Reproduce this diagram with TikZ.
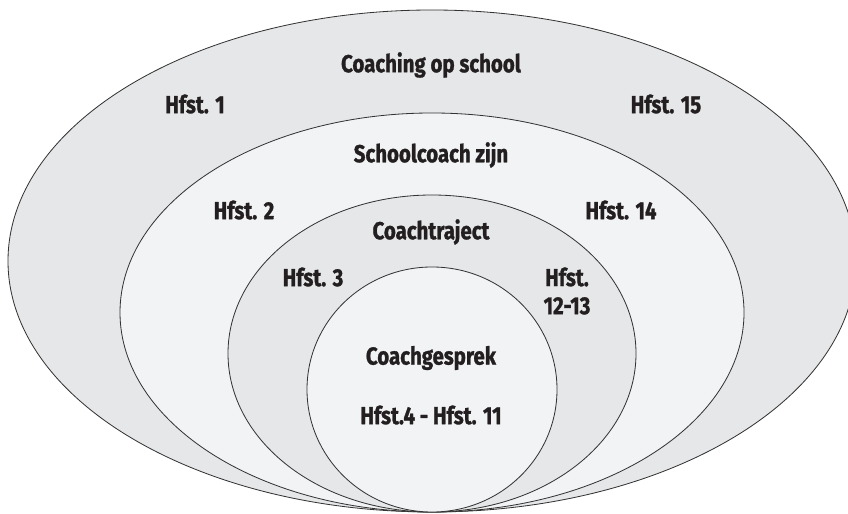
\documentclass[tikz,border=0pt]{standalone}
\usepackage{fontspec}
\setmainfont{Fira Sans}[FakeStretch=0.83, BoldFeatures={FakeBold=1.2}]
\usepackage{tikz}
\usetikzlibrary{positioning}
\definecolor{ringdark}{HTML}{E6E7E9}
\definecolor{ringlight}{HTML}{F2F3F5}
\definecolor{inktext}{HTML}{231F20}
\tikzset{
	ring/.style={draw=black!80, line width=.7pt},
	darkring/.style={ring, fill=ringdark},
	lightring/.style={ring, fill=ringlight},
	chapter/.style={font=\bfseries\fontsize{21}{24}\selectfont, text=inktext, inner sep=0pt, align=center},
}
\begin{document}
\begin{tikzpicture}[x=0.03cm, y=0.03cm]
		\useasboundingbox (0,0) rectangle (848,514);
		\clip (0,0) rectangle (848,514);
		% rings, outside in
		\draw[darkring] (432,253) ellipse [x radius=424, y radius=251];
		\draw[lightring] (432,201.5) ellipse [x radius=312, y radius=199.5];
		\draw[darkring] (432,160.5) ellipse [x radius=204, y radius=158.5];
		\draw[lightring] (432,124.5) ellipse [x radius=125, y radius=122.5];
		% texts
		\node[chapter] (school) at (431,449) {Coaching op school};
		\node[chapter] (h1) at (195,410) {Hfst. 1};
		\node[chapter] (h15) at (666,410) {Hfst. 15};
		\node[chapter] (coach) at (431,359) {Schoolcoach zijn};
		\node[chapter] (h2) at (244,304) {Hfst. 2};
		\node[chapter] (h14) at (621,304) {Hfst. 14};
		\node[chapter] (traject) at (431,282) {Coachtraject};
		\node[chapter] (h3) at (313,237) {Hfst. 3};
		\node[chapter] (h12) at (567,223) {Hfst.\\12-13};
		\node[chapter] (gesprek) at (431,156) {Coachgesprek};
		\node[chapter] (h4) at (431,99) {Hfst.4 - Hfst. 11};
\end{tikzpicture}
\end{document}
